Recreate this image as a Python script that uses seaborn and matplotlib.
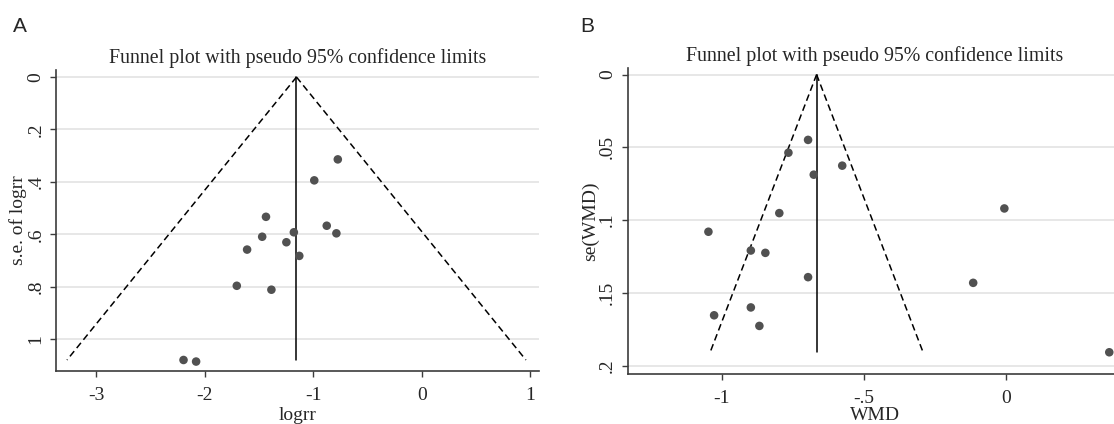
import numpy as np
import pandas as pd
import matplotlib
matplotlib.use('Agg')
import matplotlib.pyplot as plt
import seaborn as sns

# Panel A data (log risk ratio vs its standard error)
logrr = [-0.775, -0.992, -1.437, -0.877, -0.788, -1.180, -1.472, -1.249,
         -1.611, -1.130, -1.706, -1.387, -2.197, -2.081]
se_logrr = [0.314, 0.394, 0.533, 0.567, 0.596, 0.592, 0.609, 0.630,
            0.658, 0.682, 0.796, 0.811, 1.079, 1.085]
pooled_a = -1.156
semax_a = 1.079

# Panel B data (weighted mean difference vs its standard error)
wmd = [-0.697, -0.766, -0.577, -0.677, -0.798, -0.0075, -1.047, -0.898,
       -0.847, -0.697, -0.117, -0.898, -1.027, -0.868, 0.361]
se_wmd = [0.0449, 0.0537, 0.0626, 0.0688, 0.0952, 0.0920, 0.108, 0.1209,
          0.1225, 0.1392, 0.1431, 0.160, 0.1654, 0.1727, 0.1908]
pooled_b = -0.667
semax_b = 0.1906

# tick values and labels
a_xticks = [-3, -2, -1, 0, 1]
a_xlabels = ['-3', '-2', '-1', '0', '1']
a_yticks = [0, 0.2, 0.4, 0.6, 0.8, 1.0]
a_ylabels = ['0', '.2', '.4', '.6', '.8', '1']
b_xticks = [-1, -0.5, 0]
b_xlabels = ['-1', '-.5', '0']
b_yticks = [0, 0.05, 0.1, 0.15, 0.2]
b_ylabels = ['0', '.05', '.1', '.15', '.2']

sns.set_theme(style='white')
plt.rcParams['font.family'] = ['Liberation Serif', 'DejaVu Serif']

fig = plt.figure(figsize=(11.14, 4.24), dpi=100)
ax_a = fig.add_axes([0.0504, 0.125, 0.4337, 0.71])
# panel B runs a little past the right edge of the figure, as in the source
ax_b = fig.add_axes([0.5636, 0.117, 0.4434, 0.723])

dot_color = '#515151'
grid_color = '#e3e3e3'
axis_color = '#3c3c3c'


def funnel(ax, x, y, pooled, semax, xlim, ylim, xt, xl, yt, yl,
           xlabel, ylabel, xpad):
    for v in yt:
        ax.axhline(v, color=grid_color, lw=1.2, zorder=0)
    df = pd.DataFrame({'est': x, 'se': y})
    se_line = np.array([0, semax])
    ax.plot(pooled - 1.96 * se_line, se_line, color='black', lw=1.1,
            ls=(0, (4.4, 2.6)), zorder=2)
    ax.plot(pooled + 1.96 * se_line, se_line, color='black', lw=1.1,
            ls=(0, (4.4, 2.6)), zorder=2)
    ax.plot([pooled, pooled], se_line, color='black', lw=1.1, zorder=2)
    sns.scatterplot(data=df, x='est', y='se', ax=ax, color=dot_color,
                    s=38, edgecolor='none', zorder=3, clip_on=False)
    ax.set_xlim(*xlim)
    ax.set_ylim(*ylim)
    ax.set_xticks(xt)
    ax.set_xticklabels(xl)
    ax.set_yticks(yt)
    ax.set_yticklabels(yl, rotation=90, va='center')
    ax.set_xlabel(xlabel, fontsize=14, labelpad=xpad)
    ax.set_ylabel(ylabel, fontsize=14, labelpad=0)
    ax.tick_params(axis='both', labelsize=14, direction='out', length=4.5,
                   width=1, color=axis_color, bottom=True, left=True)
    ax.tick_params(axis='x', pad=7)
    ax.tick_params(axis='y', pad=4)
    for side in ['top', 'right']:
        ax.spines[side].set_visible(False)
    for side in ['left', 'bottom']:
        ax.spines[side].set_color(axis_color)
        ax.spines[side].set_linewidth(1.2)
    ax.set_title('Funnel plot with pseudo 95% confidence limits',
                 fontsize=14.3, pad=5)


funnel(ax_a, logrr, se_logrr, pooled_a, semax_a, (-3.371, 1.082),
       (1.121, -0.027), a_xticks, a_xlabels, a_yticks, a_ylabels,
       'logrr', 's.e. of logrr', 2)
funnel(ax_b, wmd, se_wmd, pooled_b, semax_b, (-1.330, 0.405),
       (0.206, -0.0046), b_xticks, b_xlabels, b_yticks, b_ylabels,
       'WMD', 'se(WMD)', 0)

fig.text(0.0112, 0.96, 'A', family='Liberation Sans', fontsize=15, va='top')
fig.text(0.5206, 0.96, 'B', family='Liberation Sans', fontsize=15, va='top')

fig.savefig('out.png', dpi=100)
